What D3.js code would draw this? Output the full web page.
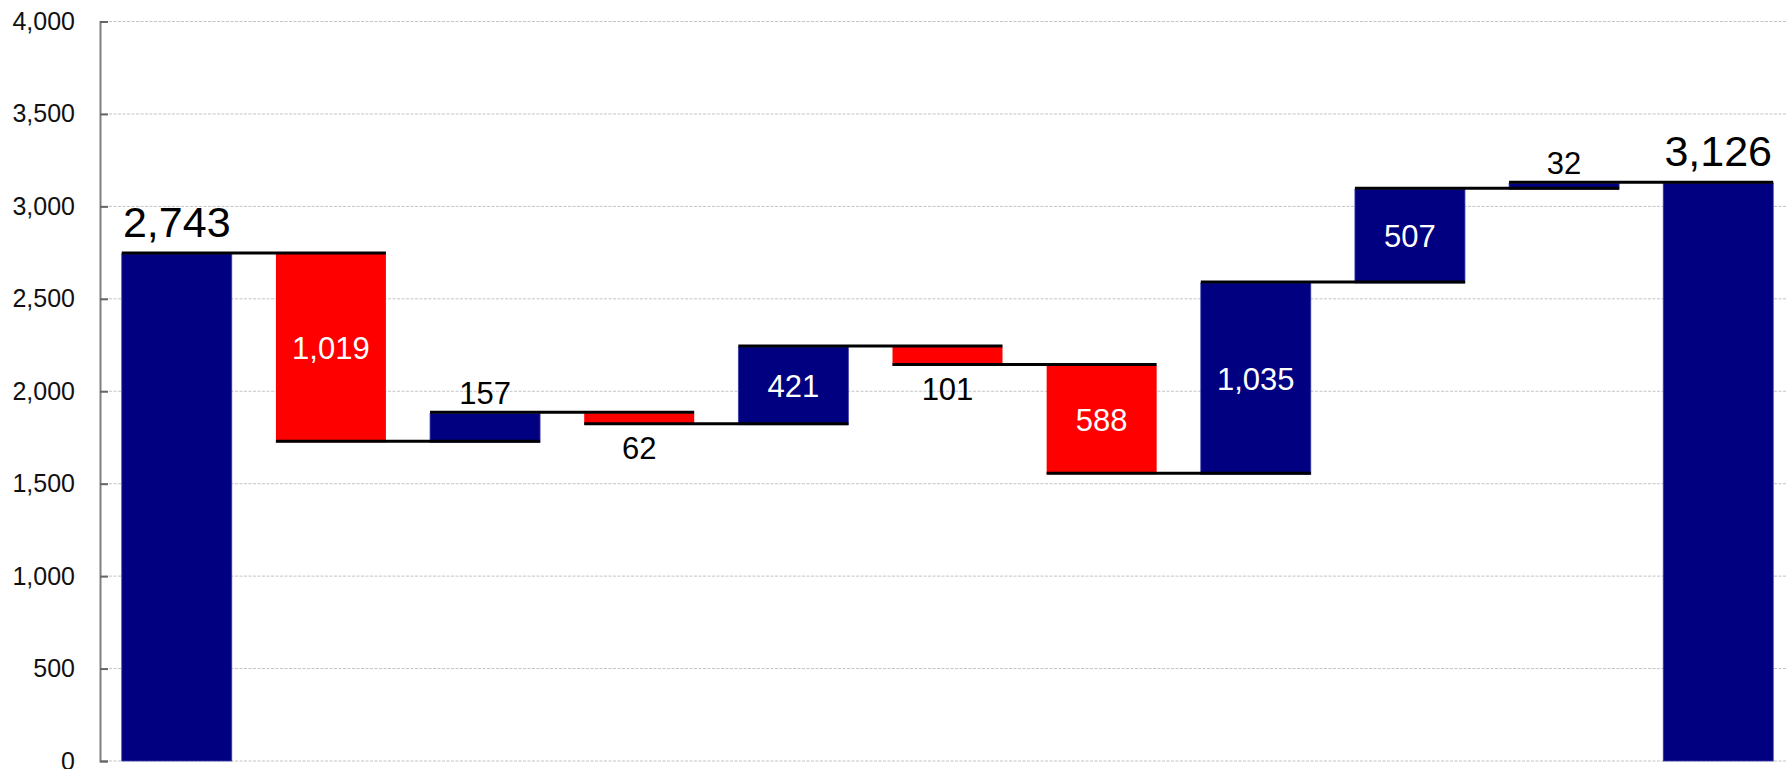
<!DOCTYPE html>
<html>
<head>
<meta charset="utf-8">
<script src="https://cdn.jsdelivr.net/npm/d3@7"></script>
<style>
  html, body { margin: 0; padding: 0; background: #fff; }
  svg { display: block; }
  text { font-family: "Liberation Sans", Arial, sans-serif; }
</style>
</head>
<body>
<svg id="chart" width="1787" height="769"></svg>
<script>
// ---- data ----
const categories = ["Start", "Step 1", "Step 2", "Step 3", "Step 4", "Step 5", "Step 6", "Step 7", "Step 8", "Step 9", "End"];
const values = [2743, -1019, 157, -62, 421, -101, -588, 1035, 507, 32, 3126];
const kinds = ["total", "delta", "delta", "delta", "delta", "delta", "delta", "delta", "delta", "delta", "total"];
const yTicks = [0, 500, 1000, 1500, 2000, 2500, 3000, 3500, 4000];

// ---- build waterfall segments ----
let run = 0;
const bars = categories.map((c, i) => {
  let y0, y1;
  if (kinds[i] === "total") { y0 = 0; y1 = values[i]; run = values[i]; }
  else { y0 = run; y1 = run + values[i]; run = y1; }
  return { cat: c, value: values[i], kind: kinds[i], y0, y1, level: run };
});

const W = 1787, H = 769;
const svg = d3.select("#chart");

const x = d3.scaleBand().domain(categories).range([100, 1795])
  .paddingInner(0.2864).paddingOuter(0.1412);
const y = d3.scaleLinear().domain([0, 4000]).range([761, 21.5]);
const fmt = d3.format(",");

// gridlines
svg.append("g").selectAll("line").data(yTicks).join("line")
  .attr("x1", 100).attr("x2", W)
  .attr("y1", d => y(d)).attr("y2", d => y(d))
  .attr("stroke", "#c4c4c4").attr("stroke-width", 1)
  .attr("stroke-dasharray", "3,1.5");

// y axis
const yAxis = d3.axisLeft(y).tickValues(yTicks).tickFormat(fmt).tickSize(-8).tickPadding(25);
const ag = svg.append("g").attr("transform", "translate(100,0)").call(yAxis);
ag.select(".domain").attr("stroke", "#808080").attr("stroke-width", 2);
ag.selectAll(".tick line").attr("stroke", "#666").attr("stroke-width", 2);
ag.selectAll(".tick text").attr("font-size", 25).attr("fill", "#111")
  .attr("font-family", "'Liberation Sans', Arial, sans-serif");

// bars
svg.append("g").selectAll("rect").data(bars).join("rect")
  .attr("x", d => x(d.cat))
  .attr("width", x.bandwidth())
  .attr("y", d => y(Math.max(d.y0, d.y1)))
  .attr("height", d => Math.abs(y(d.y0) - y(d.y1)))
  .attr("fill", d => d.value < 0 ? "#ff0000" : "#000080")
  .attr("stroke", d => d.value < 0 ? "none" : "#3c3ca8")
  .attr("stroke-width", 0.8);

// connector lines
const conns = bars.slice(0, -1).map((d, i) => ({ level: d.level, from: d.cat, to: categories[i + 1] }));
svg.append("g").selectAll("line").data(conns).join("line")
  .attr("x1", d => x(d.from))
  .attr("x2", d => x(d.to) + x.bandwidth())
  .attr("y1", d => y(d.level) - 1).attr("y2", d => y(d.level) - 1)
  .attr("stroke", "#000").attr("stroke-width", 3);

// labels
const lg = svg.append("g").attr("text-anchor", "middle");
bars.forEach(d => {
  const cx = x(d.cat) + x.bandwidth() / 2;
  const top = y(Math.max(d.y0, d.y1));
  const bot = y(Math.min(d.y0, d.y1));
  const h = bot - top;
  const label = fmt(Math.abs(d.value));
  if (d.kind === "total") {
    lg.append("text").attr("x", cx).attr("y", top - 17)
      .attr("font-size", 43).attr("fill", "#000").text(label);
  } else if (h < 40) {
    if (d.value >= 0) {
      lg.append("text").attr("x", cx).attr("y", top - 9)
        .attr("font-size", 31).attr("fill", "#000").text(label);
    } else {
      lg.append("text").attr("x", cx).attr("y", bot + 34)
        .attr("font-size", 31).attr("fill", "#000").text(label);
    }
  } else {
    lg.append("text").attr("x", cx).attr("y", (top + bot) / 2 + 11)
      .attr("font-size", 31).attr("fill", "#fff").text(label);
  }
});
</script>
</body>
</html>
